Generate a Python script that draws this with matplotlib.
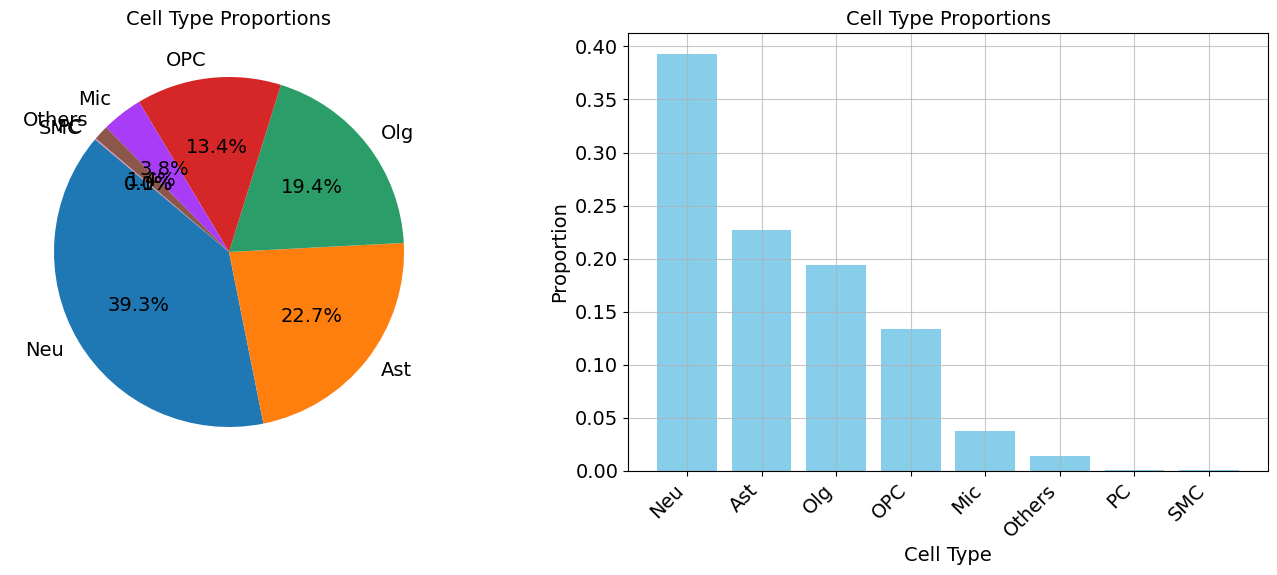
import matplotlib
matplotlib.use("Agg")
import matplotlib.pyplot as plt

cell_types = ["Neu", "Ast", "Olg", "OPC", "Mic", "Others", "PC", "SMC"]
proportions = [0.393, 0.227, 0.194, 0.134, 0.038, 0.0138, 0.0007, 0.00049]
pie_colors = ["#1f77b4", "#ff7f0e", "#2a9d68", "#d62728", "#a83cf7",
              "#8c564b", "#e377c2", "#7f7f7f"]

plt.rcParams["font.size"] = 14

fig = plt.figure(figsize=(12.77, 5.75), dpi=100)
ax1 = fig.add_axes([10.25 / 1277, 104 / 575, 437.5 / 1277, 438 / 575])
ax2 = fig.add_axes([628 / 1277, 104 / 575, 640 / 1277, 438 / 575])

ax1.pie(proportions, labels=cell_types, colors=pie_colors, autopct="%1.1f%%",
        startangle=140)
ax1.set_aspect("equal")
ax1.set_title("Cell Type Proportions", fontsize=14)

ax2.bar(cell_types, proportions, color="skyblue")
ax2.set_title("Cell Type Proportions", fontsize=14)
ax2.set_xlabel("Cell Type")
ax2.set_ylabel("Proportion")
ax2.grid(True, alpha=0.7)
plt.setp(ax2.get_xticklabels(), rotation=45, ha="right")

fig.savefig("out.png", dpi=100)
